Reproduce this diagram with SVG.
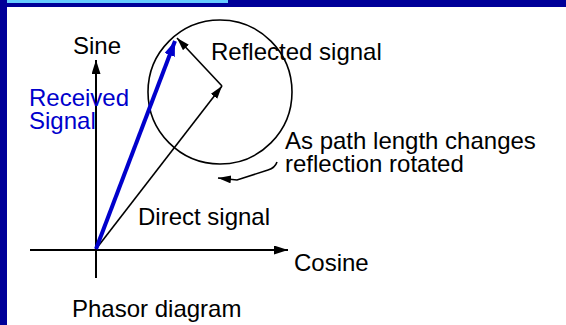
<svg xmlns="http://www.w3.org/2000/svg" width="566" height="325" viewBox="0 0 566 325">
  <style>
    text { font-family: "Liberation Sans", Arial, sans-serif; font-size: 24px; fill: #000000; }
    .blue { fill: #0000CC; }
    .ln { stroke: #000000; stroke-width: 1.6; fill: none; }
    .axis { stroke: #000000; stroke-width: 2; fill: none; }
    .bl { stroke: #0000CC; stroke-width: 4; fill: none; }
  </style>
  <defs>
    <marker id="ah" markerUnits="userSpaceOnUse" markerWidth="15" markerHeight="10" refX="14" refY="4.5" orient="auto">
      <path d="M0,0 L14,4.5 L0,9 z" fill="#000000"/>
    </marker>
    <marker id="ahs" markerUnits="userSpaceOnUse" markerWidth="14" markerHeight="10" refX="13" refY="4" orient="auto">
      <path d="M0,0 L13,4 L0,8 z" fill="#000000"/>
    </marker>
    <marker id="ahb" markerUnits="userSpaceOnUse" markerWidth="16" markerHeight="12" refX="15" refY="5.5" orient="auto">
      <path d="M0,0 L15,5.5 L0,11 z" fill="#0000CC"/>
    </marker>
  </defs>

  <g id="frame">
    <rect x="0" y="0" width="566" height="325" fill="#FFFFFF"/>
    <rect x="0" y="0" width="566" height="7" fill="#000099"/>
    <rect x="0" y="0" width="7" height="325" fill="#000099"/>
    <rect x="7" y="0" width="221" height="3" fill="#66CCFF"/>
  </g>

  <g id="circle-node">
    <circle cx="220" cy="92" r="72" fill="none" stroke="#000000" stroke-width="1.6"/>
  </g>

  <g id="connectors">
    <line id="cosine-axis" class="axis" x1="30" y1="250" x2="288" y2="250" marker-end="url(#ah)"/>
    <line id="sine-axis" class="axis" x1="96" y1="278" x2="96" y2="60" marker-end="url(#ah)"/>
    <line id="direct" class="ln" x1="96" y1="249" x2="222" y2="86" marker-end="url(#ahs)"/>
    <line id="reflected" class="ln" x1="222" y1="86" x2="177" y2="38" marker-end="url(#ahs)"/>
    <line id="received" class="bl" x1="96" y1="249" x2="175" y2="41" marker-end="url(#ahb)"/>
    <path id="rotation-pointer" class="ln" d="M277,162 Q275,168 268,170 L237,180 L218,178" marker-end="url(#ahs)"/>
  </g>

  <g id="labels">
    <text id="sine-label" x="73" y="54">Sine</text>
    <text id="reflected-label" x="211" y="60">Reflected signal</text>
    <text id="received-label" class="blue" x="29" y="106">Received</text>
    <text id="received-label2" class="blue" x="29" y="129">Signal</text>
    <text id="path-label" x="285" y="149">As path length changes</text>
    <text id="path-label2" x="285" y="172">reflection rotated</text>
    <text id="direct-label" x="138" y="225">Direct signal</text>
    <text id="cosine-label" x="294" y="271">Cosine</text>
    <text id="phasor-label" x="72" y="317">Phasor diagram</text>
  </g>
</svg>
